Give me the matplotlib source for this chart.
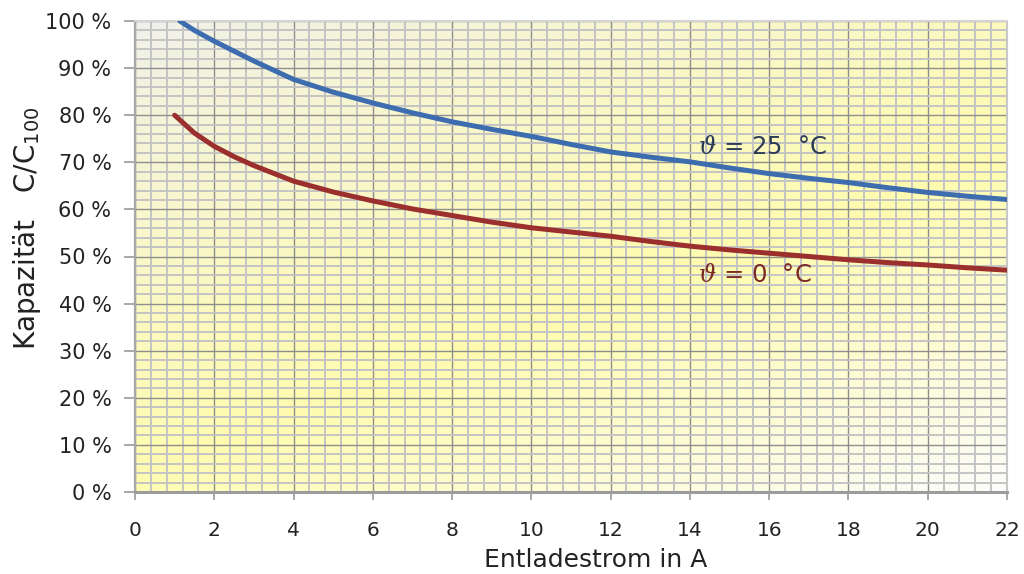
import numpy as np
import matplotlib
matplotlib.use("Agg")
import matplotlib.pyplot as plt
from matplotlib.ticker import MultipleLocator, FuncFormatter

# ---- data ----
blue_x = [1.13, 1.5, 2, 3, 4, 5, 6, 7, 8, 9, 10, 11, 12, 13, 14, 15, 16, 17, 18, 19, 20, 21, 22]
blue_y = [100, 98.0, 95.7, 91.5, 87.6, 84.9, 82.6, 80.5, 78.6, 77.0, 75.5, 73.8, 72.2, 71.1, 70.1, 68.8,
          67.6, 66.6, 65.7, 64.6, 63.6, 62.8, 62.1]
red_x = [1, 1.5, 2, 2.5, 3, 4, 5, 6, 7, 8, 9, 10, 11, 12, 13, 14, 15, 16, 17, 18, 19, 20, 21, 22]
red_y = [80, 76.2, 73.4, 71.2, 69.3, 66.0, 63.7, 61.8, 60.1, 58.7, 57.3, 56.1, 55.2, 54.3, 53.2, 52.2,
         51.4, 50.7, 50.0, 49.3, 48.7, 48.2, 47.6, 47.1]
label_25 = r"$\vartheta$ = 25  °C"
label_0 = r"$\vartheta$ = 0  °C"
x_ticks = list(range(0, 23, 2))
y_ticks = list(range(0, 101, 10))
xlabel = "Entladestrom in A"
ylabel = r"Kapazität   C/C$_{100}$"

plt.rcParams['font.family'] = ['DejaVu Sans']

fig = plt.figure(figsize=(10.24, 5.74), dpi=100)
fig.patch.set_facecolor('white')
ax = fig.add_axes([135 / 1024, 1 - 492 / 574, 872 / 1024, 471 / 574])

# background gradient (grey top-left -> yellow band -> white bottom-right)
H, W = 200, 400
u = np.linspace(0, 1, W)[None, :]
v = np.linspace(0, 1, H)[:, None]
t = (0.8 * u + 1.2 * v) / 2.0
grey = np.array([240, 240, 238]) / 255
yellow = np.array([255, 252, 176]) / 255
white = np.array([252, 252, 250]) / 255
img = np.zeros((H, W, 3))
peak = 0.58
for k in range(3):
    a = np.clip(t / peak, 0, 1) ** 0.75
    b = np.clip((t - peak) / (1 - peak), 0, 1)
    first = grey[k] + (yellow[k] - grey[k]) * a
    img[..., k] = np.where(t <= peak, first, yellow[k] + (white[k] - yellow[k]) * b)
ax.imshow(img, extent=[0, 1, 0, 1], transform=ax.transAxes, aspect='auto', zorder=0,
          interpolation='bilinear')

ax.set_xlim(0, 22)
ax.set_ylim(0, 100)
ax.xaxis.set_minor_locator(MultipleLocator(0.4))
ax.yaxis.set_minor_locator(MultipleLocator(2))
ax.set_xticks(x_ticks)
ax.set_yticks(y_ticks)
ax.yaxis.set_major_formatter(FuncFormatter(lambda val, pos: f"{int(val)} %"))

ax.set_axisbelow(True)
ax.grid(which='minor', color='#c4c4c4', linewidth=1.4, zorder=1)
ax.grid(which='major', color='#8e8e8e', linewidth=1.0, zorder=1)

ax.tick_params(which='minor', length=0)
ax.tick_params(axis='x', which='major', length=6, width=1.2, color='#9a9a9a', pad=15,
               labelsize=14.5, labelcolor='#222222')
ax.tick_params(axis='y', which='major', length=8, width=1.2, color='#9a9a9a', pad=9,
               labelsize=15, labelcolor='#222222')

for side, col, lw in [('left', '#a8a8a8', 1.6), ('bottom', '#9c9c9c', 2.2),
                      ('top', '#d4d4d4', 1.5), ('right', '#c8c8c8', 1.5)]:
    ax.spines[side].set_color(col)
    ax.spines[side].set_linewidth(lw)

ax.plot(blue_x, blue_y, color='#3d6caf', linewidth=3.6, solid_capstyle='round', zorder=3)
ax.plot(red_x, red_y, color='#9a2f2e', linewidth=3.6, solid_capstyle='round', zorder=3)

ax.text(14.2, 73.3, label_25, color='#2b3b57', fontsize=17.5, va='center', ha='left',
        math_fontfamily='dejavuserif', zorder=4)
ax.text(14.2, 46.0, label_0, color='#7c2a25', fontsize=17.5, va='center', ha='left',
        math_fontfamily='dejavuserif', zorder=4)

ax.set_xlabel(xlabel, fontsize=18, color='#222222')
ax.xaxis.set_label_coords((596 - 135) / 872, -0.118)
ax.xaxis.label.set_va('top')

ax.text((27 - 135) / 872, (492 - 228) / 471, ylabel, transform=ax.transAxes, rotation=90,
        ha='center', va='center', fontsize=20, color='#222222')

fig.savefig('out.png', dpi=100, facecolor='white')
